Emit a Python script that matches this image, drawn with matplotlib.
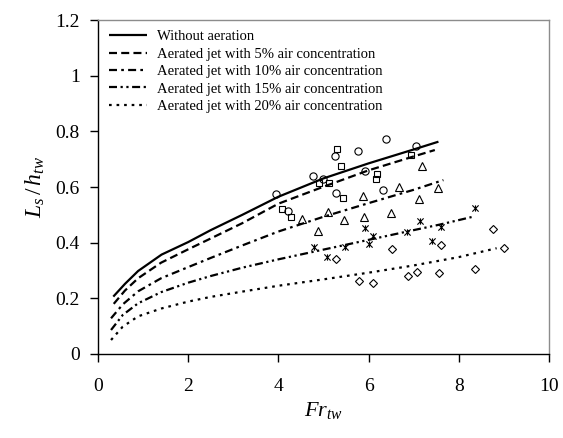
import matplotlib
matplotlib.use("Agg")
import matplotlib.pyplot as plt
from matplotlib.path import Path

plt.rcParams['font.family'] = ['Liberation Serif', 'DejaVu Serif']
plt.rcParams['mathtext.fontset'] = 'custom'
plt.rcParams['mathtext.it'] = 'Liberation Serif:italic'
plt.rcParams['mathtext.rm'] = 'Liberation Serif'

# ---- fitted curves ----
x_no = [0.34, 0.6, 0.89, 1.41, 2.0, 2.5, 3.2, 4.0, 5.0, 6.0, 7.0, 7.55]
y_no = [0.206, 0.252, 0.298, 0.357, 0.402, 0.445, 0.50, 0.565, 0.631, 0.685, 0.735, 0.763]

x_05 = [0.35, 0.6, 0.89, 1.4, 2.0, 2.5, 3.2, 4.0, 5.0, 6.0, 7.0, 7.47]
y_05 = [0.18, 0.228, 0.272, 0.328, 0.376, 0.415, 0.47, 0.54, 0.601, 0.66, 0.71, 0.733]

x_10 = [0.29, 0.55, 0.89, 1.4, 2.0, 2.5, 3.2, 4.0, 5.0, 6.0, 7.0, 7.66]
y_10 = [0.128, 0.178, 0.225, 0.272, 0.312, 0.345, 0.39, 0.44, 0.493, 0.542, 0.59, 0.625]

x_15 = [0.29, 0.55, 0.89, 1.4, 2.0, 2.5, 3.2, 4.0, 5.0, 6.0, 7.0, 7.58, 8.31]
y_15 = [0.086, 0.14, 0.182, 0.222, 0.256, 0.28, 0.31, 0.34, 0.375, 0.41, 0.445, 0.465, 0.493]

x_20 = [0.29, 0.55, 0.89, 1.4, 2.0, 2.5, 3.2, 4.0, 5.0, 6.0, 7.0, 8.0, 8.84]
y_20 = [0.05, 0.098, 0.135, 0.163, 0.188, 0.205, 0.224, 0.245, 0.268, 0.292, 0.318, 0.348, 0.38]

# ---- measured data ----
circ_x = [3.95, 4.22, 4.77, 4.98, 5.26, 5.28, 5.76, 5.92, 6.33, 6.38, 7.05]
circ_y = [0.575, 0.514, 0.641, 0.628, 0.713, 0.58, 0.731, 0.659, 0.589, 0.771, 0.749]

sq_x = [4.07, 4.29, 4.91, 5.13, 5.31, 5.38, 5.44, 6.16, 6.18, 6.94]
sq_y = [0.522, 0.493, 0.613, 0.613, 0.736, 0.676, 0.559, 0.628, 0.647, 0.715]

tri_x = [4.52, 4.88, 5.11, 5.45, 5.87, 5.90, 6.49, 6.67, 7.12, 7.18, 7.55]
tri_y = [0.484, 0.442, 0.511, 0.481, 0.568, 0.493, 0.508, 0.599, 0.556, 0.676, 0.595]

star_x = [4.80, 5.07, 5.48, 5.92, 6.01, 6.10, 6.86, 7.15, 7.41, 7.60, 8.37]
star_y = [0.386, 0.35, 0.386, 0.454, 0.395, 0.424, 0.437, 0.479, 0.406, 0.457, 0.523]

dia_x = [5.28, 5.79, 6.10, 6.51, 6.88, 7.07, 7.57, 7.61, 8.36, 8.77, 9.0]
dia_y = [0.341, 0.262, 0.256, 0.376, 0.281, 0.296, 0.290, 0.392, 0.304, 0.448, 0.382]

labels = ["Without aeration",
          "Aerated jet with 5% air concentration",
          "Aerated jet with 10% air concentration",
          "Aerated jet with 15% air concentration",
          "Aerated jet with 20% air concentration"]

fig = plt.figure(figsize=(5.63, 4.38), dpi=100)
ax = fig.add_axes([0.174, 0.192, 0.801, 0.762])

lw = 1.6
ax.plot(x_no, y_no, color='black', lw=lw, label=labels[0], solid_capstyle='butt')
ax.plot(x_05, y_05, color='black', lw=lw, dashes=[3.6, 1.9], label=labels[1])
ax.plot(x_10, y_10, color='black', lw=lw, dashes=[3.6, 1.9, 1.2, 1.9], label=labels[2])
ax.plot(x_15, y_15, color='black', lw=lw, dashes=[3.6, 1.6, 1.0, 1.6, 1.0, 1.6], label=labels[3])
ax.plot(x_20, y_20, color='black', lw=lw, dashes=[1.2, 2.2], label=labels[4])

mk = dict(linestyle='none', markerfacecolor='none', markeredgecolor='black',
          markeredgewidth=0.8)
ax.plot(circ_x, circ_y, marker='o', markersize=5.2, **mk)
ax.plot(sq_x, sq_y, marker='s', markersize=4.8, **mk)
ax.plot(tri_x, tri_y, marker='^', markersize=5.5, **mk)
star = Path([(-1, -1), (1, 1), (-1, 1), (1, -1), (0, -1), (0, 1)],
            [Path.MOVETO, Path.LINETO, Path.MOVETO, Path.LINETO, Path.MOVETO, Path.LINETO])
ax.plot(star_x, star_y, marker=star, markersize=4.5, **mk)
ax.plot(dia_x, dia_y, marker='D', markersize=4.2, **mk)

ax.set_xlim(0, 10)
ax.set_ylim(0, 1.2)
ax.set_xticks([0, 2, 4, 6, 8, 10])
ax.set_yticks([0, 0.2, 0.4, 0.6, 0.8, 1.0, 1.2])
ax.set_yticklabels(['0', '0.2', '0.4', '0.6', '0.8', '1', '1.2'])
ax.tick_params(direction='out', length=6, width=1, labelsize=14, colors='black')
ax.tick_params(axis='x', pad=11)
ax.tick_params(axis='y', pad=7)
for s in ['left', 'bottom']:
    ax.spines[s].set_color('black')
    ax.spines[s].set_linewidth(1.0)
for s in ['top', 'right']:
    ax.spines[s].set_color('#8c8c8c')
    ax.spines[s].set_linewidth(1.0)

ax.set_xlabel(r'$Fr_{tw}$', fontsize=16, labelpad=4)
ax.set_ylabel(r'$L_s\,/\,h_{tw}$', fontsize=17, labelpad=6)

leg = ax.legend(loc='upper left', bbox_to_anchor=(0.011, 0.988), frameon=False,
                fontsize=10.5, handlelength=2.6, handletextpad=0.68,
                labelspacing=0.29, borderpad=0.4, borderaxespad=0.0)

fig.savefig('out.png', dpi=100)
